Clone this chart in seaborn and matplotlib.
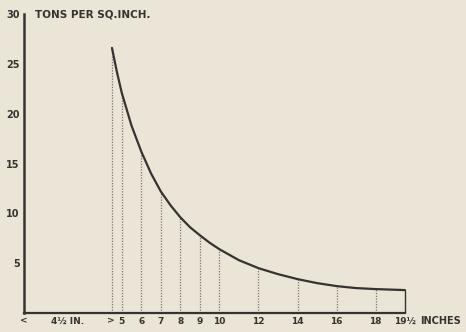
import matplotlib
matplotlib.use('Agg')
import matplotlib.pyplot as plt
import seaborn as sns
import pandas as pd

# pressure curve
inches = [4.5, 4.75, 5, 5.5, 6, 6.5, 7, 7.5, 8, 8.5, 9, 9.5, 10, 11, 12, 13, 14, 15, 16, 17, 18, 19.5]
tons = [26.6, 24.2, 22.1, 18.8, 16.2, 14.0, 12.2, 10.8, 9.6, 8.6, 7.8, 7.05, 6.4,
        5.3, 4.5, 3.9, 3.4, 3.0, 2.7, 2.5, 2.4, 2.3]

ordinates = [4.5, 5, 6, 7, 8, 9, 10, 12, 14, 16, 18]
xtick_pos = [5, 6, 7, 8, 9, 10, 12, 14, 16, 18, 19.5]
xtick_lbl = ['5', '6', '7', '8', '9', '10', '12', '14', '16', '18', '19½']
ytick_pos = [5, 10, 15, 20, 25, 30]

paper = '#ebe5d7'
ink = '#36322f'

sns.set_style('white', {'axes.facecolor': paper, 'figure.facecolor': paper})
plt.rcParams['font.family'] = ['DejaVu Sans']

df = pd.DataFrame({'inches': inches, 'tons': tons})
heights = dict(zip(inches, tons))

fig = plt.figure(figsize=(4.66, 3.32), dpi=100)
ax = fig.add_axes([0.0517, 0.0572, 0.943, 0.9006])

# dotted ordinates under the curve
ax.vlines(ordinates, 0, [heights[x] for x in ordinates], colors='#7a7570',
          linestyles=(0, (1, 1.2)), linewidth=0.9)
ax.vlines([19.5], 0, heights[19.5], colors=ink, linewidth=1.0)

sns.lineplot(data=df, x='inches', y='tons', ax=ax, color=ink, linewidth=1.6)

ax.set_xlim(0, 22.5)
ax.set_ylim(0, 30)
ax.set_xlabel('')
ax.set_ylabel('')

for s in ['top', 'right']:
    ax.spines[s].set_visible(False)
ax.spines['left'].set_color(ink)
ax.spines['left'].set_linewidth(1.8)
ax.spines['bottom'].set_color(ink)
ax.spines['bottom'].set_linewidth(1.6)
ax.spines['bottom'].set_bounds(0, 19.5)

ax.set_yticks(ytick_pos)
ax.set_yticklabels([str(v) for v in ytick_pos])
ax.tick_params(axis='y', direction='in', length=4, width=1, colors=ink,
               labelsize=7, pad=3)
ax.set_xticks(xtick_pos)
ax.set_xticklabels(xtick_lbl)
ax.tick_params(axis='x', direction='in', length=0, colors=ink, labelsize=6.5, pad=3)
for lbl in ax.get_xticklabels() + ax.get_yticklabels():
    lbl.set_fontweight('bold')
    lbl.set_color(ink)

ax.text(0.55, 30, 'TONS PER SQ.INCH.', fontsize=7.5, fontweight='bold', color=ink,
        va='center', ha='left')
ax.text(20.3, -0.35, 'INCHES', fontsize=7, fontweight='bold', color=ink,
        va='top', ha='left', clip_on=False)
ax.text(0, -0.35, '<', fontsize=6.5, fontweight='bold', color=ink, va='top', ha='center',
        clip_on=False)
ax.text(2.25, -0.35, '4½ IN.', fontsize=6.5, fontweight='bold', color=ink, va='top',
        ha='center', clip_on=False)
ax.text(4.45, -0.35, '>', fontsize=6.5, fontweight='bold', color=ink, va='top', ha='center',
        clip_on=False)

fig.savefig('out.png', dpi=100, facecolor=paper)
